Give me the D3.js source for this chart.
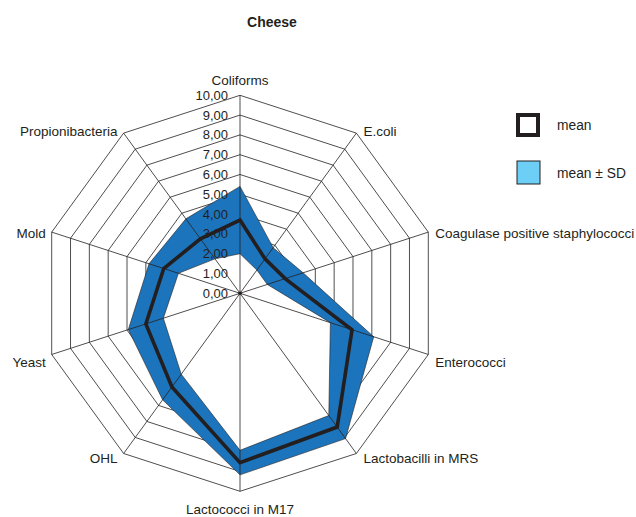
<!DOCTYPE html>
<html>
<head>
<meta charset="utf-8">
<script src="https://cdn.jsdelivr.net/npm/d3@7"></script>
<style>
  body { margin: 0; background: #fff; }
  svg text { font-family: "Liberation Sans", Arial, sans-serif; fill: #231f20; }
</style>
</head>
<body>
<div id="chart"></div>
<script>
// data
var categories = ["Coliforms", "E.coli", "Coagulase positive staphylococci", "Enterococci",
                  "Lactobacilli in MRS", "Lactococci in M17", "OHL", "Yeast", "Mold", "Propionibacteria"];
var meanValues = [3.7, 2.15, 2.4, 5.95, 8.35, 8.55, 5.85, 5.0, 4.05, 3.4];
var sdValues   = [1.7, 0.7, 0.95, 1.15, 0.72, 0.62, 0.8, 0.93, 0.78, 1.25];
var tickValues = [0, 1, 2, 3, 4, 5, 6, 7, 8, 9, 10];

(function() {
    'use strict';

    var width = 636, height = 517,
        cx = 240, cy = 293.3, radius = 198;

    var svg = d3.select("#chart").append("svg")
        .attr("width", width)
        .attr("height", height);

    var r = d3.scaleLinear().domain([0, 10]).range([0, radius]);
    var angle = d3.scalePoint().domain(categories).range([0, 2 * Math.PI * 9 / 10]);

    var g = svg.append("g").attr("transform", "translate(" + cx + "," + cy + ")");

    function pt(cat, v) {
        var a = angle(cat);
        return [r(v) * Math.sin(a), -r(v) * Math.cos(a)];
    }
    var ring = d3.line().curve(d3.curveLinearClosed);

    // grid decagons
    g.selectAll(".grid")
        .data(tickValues.slice(1))
      .enter().append("path")
        .attr("class", "grid")
        .attr("d", function(t) { return ring(categories.map(function(c) { return pt(c, t); })); })
        .attr("fill", "none")
        .attr("stroke", "#231f20")
        .attr("stroke-width", 0.8);

    // SD band: upper area in blue, lower area painted white over it (covers the grid)
    var upper = categories.map(function(c, i) { return pt(c, meanValues[i] + sdValues[i]); });
    var lower = categories.map(function(c, i) { return pt(c, Math.max(0, meanValues[i] - sdValues[i])); });
    g.append("path")
        .attr("d", ring(upper))
        .attr("fill", "#1c75bc")
        .attr("stroke", "#231f20")
        .attr("stroke-width", 0.6);
    g.append("path")
        .attr("d", ring(lower))
        .attr("fill", "#fff")
        .attr("stroke", "#231f20")
        .attr("stroke-width", 0.6);

    // spokes
    g.selectAll(".spoke")
        .data(categories)
      .enter().append("line")
        .attr("class", "spoke")
        .attr("x1", 0).attr("y1", 0)
        .attr("x2", function(c) { return pt(c, 10)[0]; })
        .attr("y2", function(c) { return pt(c, 10)[1]; })
        .attr("stroke", "#231f20")
        .attr("stroke-width", 0.8);

    g.append("circle").attr("r", 1.8).attr("fill", "#231f20");

    // mean line
    g.append("path")
        .attr("d", ring(categories.map(function(c, i) { return pt(c, meanValues[i]); })))
        .attr("fill", "none")
        .attr("stroke", "#231f20")
        .attr("stroke-width", 3.6)
        .attr("stroke-linejoin", "miter");

    // tick labels along the first axis
    g.selectAll(".tick")
        .data(tickValues)
      .enter().append("text")
        .attr("class", "tick")
        .attr("x", -12)
        .attr("y", function(t) { return -r(t); })
        .attr("dy", "0.35em")
        .attr("text-anchor", "end")
        .style("font-size", "13px")
        .text(function(t) { return d3.format(".2f")(t).replace(".", ","); });

    // category labels
    g.selectAll(".cat")
        .data(categories)
      .enter().append("text")
        .attr("class", "cat")
        .attr("x", function(c) {
            var p = pt(c, 10), s = Math.sin(angle(c));
            return p[0] + (Math.abs(s) < 0.1 ? 0 : (s > 0 ? 7 : -6));
        })
        .attr("y", function(c) {
            var p = pt(c, 10), co = Math.cos(angle(c));
            if (co > 0.99) return p[1] - 15;
            if (co < -0.99) return p[1] + 18;
            return p[1] + (Math.abs(co) > 0.5 ? 0 : 3) + (co > 0 ? -2 : 5);
        })
        .attr("dy", "0.35em")
        .attr("text-anchor", function(c) {
            var s = Math.sin(angle(c));
            return Math.abs(s) < 0.1 ? "middle" : (s > 0 ? "start" : "end");
        })
        .style("font-size", "13.5px")
        .text(function(c) { return c; });

    // title
    svg.append("text")
        .attr("x", 272)
        .attr("y", 22)
        .attr("dy", "0.35em")
        .attr("text-anchor", "middle")
        .style("font-size", "14px")
        .style("font-weight", "bold")
        .text("Cheese");

    // legend
    var legend = svg.append("g").attr("transform", "translate(516,113)");
    legend.append("rect")
        .attr("x", 2).attr("y", 2).attr("width", 20).attr("height", 20)
        .attr("fill", "#fff").attr("stroke", "#231f20").attr("stroke-width", 4);
    legend.append("text")
        .attr("x", 41).attr("y", 12).attr("dy", "0.35em")
        .style("font-size", "13.8px").text("mean");
    legend.append("rect")
        .attr("x", 1).attr("y", 48).attr("width", 23).attr("height", 23)
        .attr("fill", "#6dcff6").attr("stroke", "#231f20").attr("stroke-width", 1);
    legend.append("text")
        .attr("x", 41).attr("y", 60).attr("dy", "0.35em")
        .style("font-size", "13.8px").text("mean \u00b1 SD");
})();
</script>
</body>
</html>
